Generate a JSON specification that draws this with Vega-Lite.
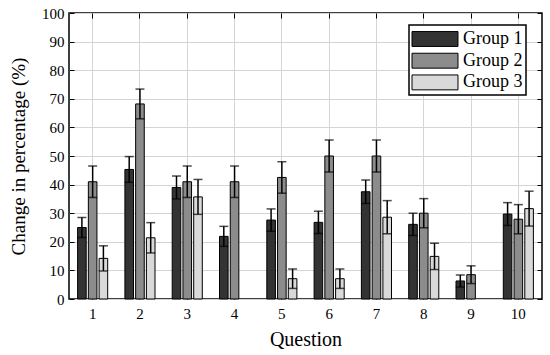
{
  "$schema": "https://vega.github.io/schema/vega-lite/v6.json",
  "width": 473,
  "height": 286,
  "autosize": {"type": "none"},
  "padding": {"left": 69, "top": 13, "right": 8, "bottom": 56},
  "background": "white",
  "config": {
    "font": "Liberation Serif",
    "view": {"stroke": "black", "strokeWidth": 1.5},
    "axis": {
      "domain": false,
      "labelColor": "black",
      "labelFontSize": 15,
      "labelFont": "Liberation Serif",
      "titleFont": "Liberation Serif",
      "titleFontWeight": "normal",
      "titleColor": "black",
      "tickColor": "black",
      "tickWidth": 1,
      "tickSize": -5,
      "gridColor": "#d4d4d4",
      "gridWidth": 1,
      "gridOpacity": 1
    },
    "legend": {
      "labelFont": "Liberation Serif",
      "labelFontSize": 18,
      "labelColor": "black"
    }
  },
  "data": {
    "values": [
      {"q": "1", "group": "Group 1", "value": 25, "low": 21.5, "high": 28.5},
      {"q": "1", "group": "Group 2", "value": 41, "low": 35.5, "high": 46.5},
      {"q": "1", "group": "Group 3", "value": 14.2, "low": 9.8, "high": 18.6},
      {"q": "2", "group": "Group 1", "value": 45.3, "low": 40.8, "high": 49.8},
      {"q": "2", "group": "Group 2", "value": 68.2, "low": 63, "high": 73.4},
      {"q": "2", "group": "Group 3", "value": 21.4, "low": 16.1, "high": 26.7},
      {"q": "3", "group": "Group 1", "value": 39, "low": 35, "high": 43},
      {"q": "3", "group": "Group 2", "value": 41, "low": 35.5, "high": 46.5},
      {"q": "3", "group": "Group 3", "value": 35.7, "low": 29.6, "high": 41.8},
      {"q": "4", "group": "Group 1", "value": 21.9, "low": 18.4, "high": 25.4},
      {"q": "4", "group": "Group 2", "value": 41, "low": 35.5, "high": 46.5},
      {"q": "5", "group": "Group 1", "value": 27.6, "low": 23.7, "high": 31.5},
      {"q": "5", "group": "Group 2", "value": 42.5, "low": 37, "high": 48},
      {"q": "5", "group": "Group 3", "value": 7.1, "low": 3.7, "high": 10.5},
      {"q": "6", "group": "Group 1", "value": 26.8, "low": 22.9, "high": 30.7},
      {"q": "6", "group": "Group 2", "value": 50, "low": 44.4, "high": 55.6},
      {"q": "6", "group": "Group 3", "value": 7.1, "low": 3.7, "high": 10.5},
      {"q": "7", "group": "Group 1", "value": 37.5, "low": 33.4, "high": 41.6},
      {"q": "7", "group": "Group 2", "value": 50, "low": 44.4, "high": 55.6},
      {"q": "7", "group": "Group 3", "value": 28.6, "low": 22.8, "high": 34.4},
      {"q": "8", "group": "Group 1", "value": 26.1, "low": 22.2, "high": 30},
      {"q": "8", "group": "Group 2", "value": 30, "low": 24.9, "high": 35.1},
      {"q": "8", "group": "Group 3", "value": 14.9, "low": 10.3, "high": 19.5},
      {"q": "9", "group": "Group 1", "value": 6.3, "low": 4.2, "high": 8.4},
      {"q": "9", "group": "Group 2", "value": 8.5, "low": 5.4, "high": 11.6},
      {"q": "10", "group": "Group 1", "value": 29.7, "low": 25.7, "high": 33.7},
      {"q": "10", "group": "Group 2", "value": 27.9, "low": 22.8, "high": 33},
      {"q": "10", "group": "Group 3", "value": 31.6, "low": 25.5, "high": 37.7}
    ]
  },
  "layer": [
    {
      "mark": {"type": "bar", "stroke": "black", "strokeWidth": 1},
      "encoding": {
        "x": {
          "field": "q", "type": "ordinal", "sort": null,
          "scale": {"domain": ["1","2","3","4","5","6","7","8","9","10"], "paddingInner": 0, "paddingOuter": 0},
          "axis": {"title": "Question", "titleFontSize": 20, "titlePadding": 8, "labelAngle": 0, "labelPadding": 12, "grid": true}
        },
        "xOffset": {
          "field": "group", "type": "nominal",
          "scale": {"paddingInner": 0.2, "paddingOuter": 0.8}
        },
        "y": {
          "field": "value", "type": "quantitative",
          "scale": {"domain": [0, 100], "nice": false},
          "axis": {"title": "Change in percentage (%)", "titleFontSize": 19, "titlePadding": 13, "values": [0,10,20,30,40,50,60,70,80,90,100], "labelPadding": 10, "grid": true}
        },
        "color": {
          "field": "group", "type": "nominal",
          "scale": {"range": ["#333333", "#8c8c8c", "#d9d9d9"]},
          "legend": {
            "title": null,
            "orient": "none",
            "legendX": 340,
            "legendY": 12,
            "direction": "vertical",
            "strokeColor": "black",
            "fillColor": "white",
            "padding": 3,
            "symbolType": "M-2.19,-0.71L2.19,-0.71L2.19,0.71L-2.19,0.71Z",
            "symbolSize": 441,
            "symbolStrokeColor": "black",
            "symbolStrokeWidth": 1,
            "symbolOpacity": 1,
            "symbolOffset": 12,
            "labelOffset": 17,
            "rowPadding": 0.7,
            "encode": {"legend": {"update": {"strokeWidth": {"value": 1.5}}}}
          }
        }
      }
    },
    {
      "mark": {"type": "rule", "color": "black", "strokeWidth": 1.5},
      "encoding": {
        "x": {"field": "q", "type": "ordinal", "sort": null, "axis": {"orient": "top", "labels": false, "title": null, "grid": false}},
        "xOffset": {"field": "group", "type": "nominal"},
        "y": {"field": "low", "type": "quantitative", "axis": {"orient": "right", "labels": false, "title": null, "grid": false, "values": [0,10,20,30,40,50,60,70,80,90,100]}},
        "y2": {"field": "high"}
      }
    },
    {
      "mark": {"type": "tick", "color": "black", "thickness": 1.5, "size": 9},
      "encoding": {
        "x": {"field": "q", "type": "ordinal", "sort": null, "axis": null},
        "xOffset": {"field": "group", "type": "nominal"},
        "y": {"field": "high", "type": "quantitative", "axis": null}
      }
    },
    {
      "mark": {"type": "tick", "color": "black", "thickness": 1.5, "size": 9},
      "encoding": {
        "x": {"field": "q", "type": "ordinal", "sort": null, "axis": null},
        "xOffset": {"field": "group", "type": "nominal"},
        "y": {"field": "low", "type": "quantitative", "axis": null}
      }
    }
  ],
  "resolve": {"axis": {"x": "independent", "y": "independent"}}
}
